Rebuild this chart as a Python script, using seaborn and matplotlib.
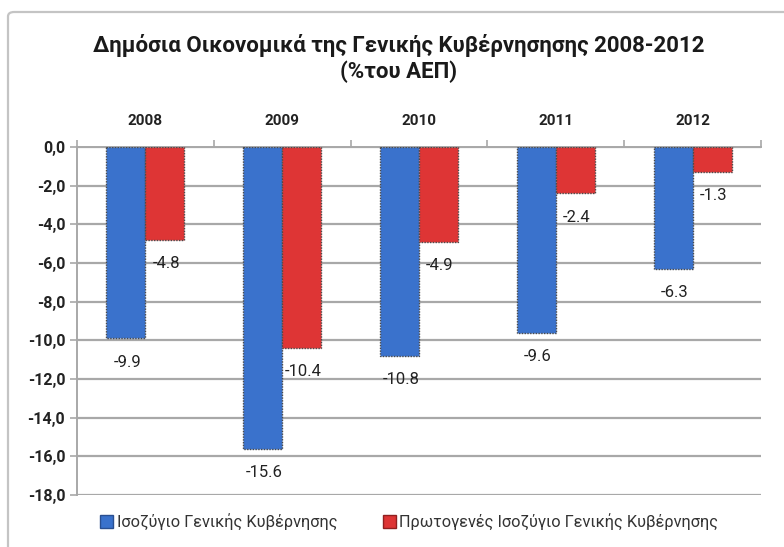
import matplotlib
matplotlib.use("Agg")
import matplotlib.pyplot as plt
from matplotlib.patches import FancyBboxPatch, Patch
import seaborn as sns
import pandas as pd

years = ["2008", "2009", "2010", "2011", "2012"]
general_balance = [-9.9, -15.6, -10.8, -9.6, -6.3]
primary_balance = [-4.8, -10.4, -4.9, -2.4, -1.3]
series_names = ["Ισοζύγιο Γενικής Κυβέρνησης",
                "Πρωτογενές Ισοζύγιο Γενικής Κυβέρνησης"]
title_text = "Δημόσια Οικονομικά της Γενικής Κυβέρνησησης 2008-2012\n(%του ΑΕΠ)"
y_ticks = [0, -2, -4, -6, -8, -10, -12, -14, -16, -18]

sns.set_theme(style="white")
plt.rcParams["font.family"] = ["Roboto", "DejaVu Sans"]

df = pd.DataFrame({
    "year": years * 2,
    "value": general_balance + primary_balance,
    "series": [series_names[0]] * len(years) + [series_names[1]] * len(years),
})

blue = "#3a72cc"
red = "#de3535"

fig = plt.figure(figsize=(7.84, 5.47), dpi=100)
fig.patch.set_facecolor("white")

# outer chart frame
frame = FancyBboxPatch((8 / 784, -0.05), 1.0, 1 - 12 / 547 + 0.05,
                       boxstyle="round,pad=0,rounding_size=0.008",
                       transform=fig.transFigure, facecolor="none",
                       edgecolor="#c4c4c4", linewidth=1.6, zorder=-1)
fig.patches.append(frame)

ax = fig.add_axes([77 / 784, 1 - 495 / 547, (761 - 77) / 784, (495 - 147) / 547])
ax.set_facecolor("none")

sns.barplot(data=df, x="year", y="value", hue="series", order=years,
            hue_order=series_names, palette=[blue, red], saturation=1,
            width=0.57, gap=0, errorbar=None, ax=ax, legend=False, zorder=3,
            edgecolor="#4a4a4a", linewidth=1.0, linestyle=(0, (1, 1)))

ax.set_ylim(-18, 0)
ax.set_xlim(-0.5, len(years) - 0.5)
ax.set_yticks(y_ticks)
ax.set_yticklabels([f"{v:.1f}".replace(".", ",") for v in y_ticks],
                   fontsize=11.5, color="#222222", fontweight="bold")
ax.yaxis.grid(True, color="#a8a8a8", linewidth=1.6, zorder=1)
ax.set_axisbelow(True)

ax.xaxis.tick_top()
ax.set_xticks(range(len(years)))
ax.set_xticklabels(years, fontsize=11, color="#222222", fontweight="bold")
ax.tick_params(axis="x", which="major", length=0, pad=14)
ax.set_xticks([i - 0.5 for i in range(len(years) + 1)], minor=True)
ax.tick_params(axis="x", which="minor", top=True, bottom=False,
               length=5, width=1.2, color="#a8a8a8")
ax.tick_params(axis="y", length=5, width=1.2, color="#a8a8a8", left=True)
ax.set_xlabel("")
ax.set_ylabel("")

for side in ["right", "bottom"]:
    ax.spines[side].set_visible(False)
for side in ["left", "top"]:
    ax.spines[side].set_color("#a8a8a8")
    ax.spines[side].set_linewidth(1.4)

# value labels under the bar ends
for container in ax.containers:
    for bar in container:
        h = bar.get_height()
        ax.annotate(f"{h:.1f}", (bar.get_x() + bar.get_width() / 2, h),
                    xytext=(1, -17), textcoords="offset points",
                    ha="center", va="center", fontsize=12,
                    color="#222222", zorder=5)

fig.text(0.508, 1 - 59 / 547, title_text, ha="center", va="center",
         fontsize=16, fontweight="bold", color="#1a1a1a", linespacing=1.2)

handles = [Patch(facecolor=blue, edgecolor="#2a4f90"),
           Patch(facecolor=red, edgecolor="#902020")]
fig.legend(handles, series_names, loc="center", ncol=2,
           bbox_to_anchor=(0.522, 1 - 522 / 547), frameon=False,
           fontsize=11.8, handlelength=0.8, handleheight=0.8,
           handletextpad=0.2, columnspacing=2.8, labelcolor="#333333")

fig.savefig("out.png", dpi=100, facecolor="white")
